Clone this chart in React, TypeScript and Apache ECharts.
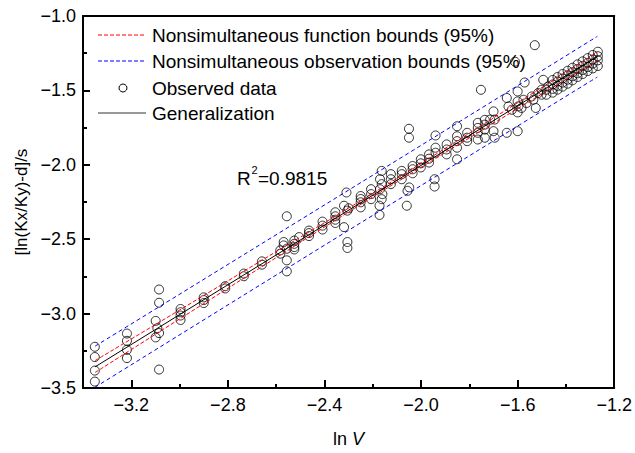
import React, { useEffect, useRef } from 'react';
import * as echarts from 'echarts';

const xMajorTicks = [-3.2, -2.8, -2.4, -2.0, -1.6, -1.2];
const xMinorTicks = [-3.0, -2.6, -2.2, -1.8, -1.4];

const obsX = [
  -3.351, -3.351, -3.351, -3.351, -3.218, -3.218, -3.218, -3.218,
  -3.085, -3.085, -3.099, -3.092, -3.085, -3.099, -3.085,
  -2.996, -2.996, -2.996, -2.996, -2.9, -2.9, -2.9, -2.811, -2.811,
  -2.734, -2.734, -2.659, -2.659,
  -2.583, -2.583, -2.569, -2.569, -2.556, -2.556, -2.556, -2.556,
  -2.525, -2.525, -2.525, -2.525, -2.505, -2.464, -2.464, -2.464,
  -2.408, -2.408, -2.408, -2.355, -2.355, -2.355, -2.355,
  -2.309, -2.319, -2.305, -2.3, -2.319, -2.305, -2.305,
  -2.25, -2.25, -2.25, -2.25, -2.207, -2.207, -2.207,
  -2.163, -2.17, -2.163, -2.17, -2.16, -2.163, -2.172, -2.172,
  -2.125, -2.125, -2.125, -2.08, -2.08, -2.08, -2.049, -2.056, -2.059,
  -2.05, -2.05, -2.035, -2.035, -2.035, -2.001, -2.001, -2.001,
  -1.967, -1.967, -1.967, -1.94, -1.94, -1.94, -1.944, -1.944,
  -1.894, -1.894, -1.894, -1.851, -1.851, -1.851, -1.851, -1.851,
  -1.809, -1.809, -1.809, -1.765, -1.765, -1.765, -1.765,
  -1.736, -1.736, -1.736, -1.736, -1.752, -1.714,
  -1.7, -1.695, -1.7, -1.695, -1.645, -1.638, -1.645, -1.624,
  -1.6, -1.6, -1.597, -1.6, -1.6, -1.576, -1.563, -1.584, -1.571,
  -1.542, -1.535, -1.525, -1.515, -1.501, -1.501, -1.494,
  -1.481, -1.474, -1.481, -1.529, -1.611,
  -1.455, -1.455, -1.455, -1.455, -1.435, -1.435, -1.435, -1.435,
  -1.414, -1.414, -1.414, -1.414, -1.393, -1.393, -1.393, -1.393,
  -1.373, -1.373, -1.373, -1.373, -1.352, -1.352, -1.352, -1.352,
  -1.331, -1.331, -1.331, -1.331, -1.31, -1.31, -1.31, -1.31,
  -1.289, -1.289, -1.289, -1.289, -1.268, -1.268, -1.268, -1.268,
];
const obsY = [
  -3.223, -3.292, -3.383, -3.457, -3.134, -3.183, -3.243, -3.299,
  -2.838, -2.927, -3.049, -3.098, -3.131, -3.16, -3.376,
  -2.969, -2.991, -3.013, -3.043, -2.891, -2.909, -2.929, -2.816, -2.831,
  -2.731, -2.749, -2.649, -2.671,
  -2.575, -2.597, -2.519, -2.542, -2.564, -2.642, -2.716, -2.346,
  -2.509, -2.531, -2.553, -2.569, -2.486, -2.442, -2.459, -2.479,
  -2.382, -2.409, -2.435, -2.319, -2.346, -2.369, -2.391,
  -2.186, -2.275, -2.308, -2.292, -2.419, -2.519, -2.559,
  -2.21, -2.23, -2.252, -2.286, -2.164, -2.197, -2.231,
  -2.041, -2.097, -2.13, -2.164, -2.197, -2.231, -2.275, -2.337,
  -2.063, -2.097, -2.13, -2.041, -2.063, -2.097, -2.152, -2.175, -2.275,
  -1.758, -1.818, -2.008, -2.03, -2.057, -1.963, -1.99, -2.018,
  -1.93, -1.959, -1.985, -1.803, -1.885, -1.919, -2.097, -2.146,
  -1.863, -1.897, -1.93, -1.741, -1.808, -1.841, -1.885, -1.963,
  -1.785, -1.818, -1.841, -1.718, -1.752, -1.785, -1.83,
  -1.698, -1.73, -1.763, -1.818, -1.496, -1.696,
  -1.641, -1.696, -1.774, -1.818, -1.551, -1.608, -1.785, -1.63,
  -1.507, -1.574, -1.607, -1.648, -1.774, -1.563, -1.585, -1.618, -1.447,
  -1.541, -1.563, -1.618, -1.518, -1.496, -1.529, -1.429,
  -1.496, -1.474, -1.529, -1.196, -1.307,
  -1.43, -1.46, -1.49, -1.515, -1.41, -1.44, -1.47, -1.495,
  -1.39, -1.42, -1.448, -1.475, -1.368, -1.398, -1.428, -1.455,
  -1.348, -1.378, -1.405, -1.432, -1.325, -1.356, -1.385, -1.41,
  -1.305, -1.335, -1.363, -1.39, -1.283, -1.315, -1.343, -1.37,
  -1.262, -1.292, -1.32, -1.352, -1.24, -1.27, -1.298, -1.336,
];

const genX = [-3.35, -1.27];
const genY = [-3.358, -1.272];

const funcX = [-3.35, -3.0, -2.6, -2.3, -2.0, -1.7, -1.27];
const funcUpper = [-3.316, -2.976, -2.584, -2.291, -1.991, -1.685, -1.245];
const funcLower = [-3.396, -3.036, -2.624, -2.317, -2.017, -1.721, -1.299];

const obsBoundX = [-3.35, -2.3, -1.27];
const obsUpper = [-3.219, -2.17, -1.137];
const obsLower = [-3.495, -2.44, -1.41];

const legendLabels = [
  'Nonsimultaneous function bounds (95%)',
  'Nonsimultaneous observation bounds (95%)',
  'Observed data',
  'Generalization',
];

const FONT = '"Liberation Sans", Arial, Helvetica, sans-serif';

const zip = (xs: number[], ys: number[]) => xs.map((x, i) => [x, ys[i]]);
const fmt = (v: number) => (v < 0 ? '\u2212' : '') + Math.abs(v).toFixed(1);

export default function App() {
  const ref = useRef<HTMLDivElement>(null);
  useEffect(() => {
    document.body.style.margin = '0';
    const chart = echarts.init(ref.current!, null, { renderer: 'svg' });
    const lineBase = { type: 'line', symbol: 'none', showSymbol: false, silent: true };
    const rowY = [35, 61, 88, 113];
    const txt = (text: string, x: number, y: number, size: number) => ({
      type: 'text', x, y,
      style: { text, fontSize: size, fontFamily: FONT, fill: '#000', verticalAlign: 'middle', align: 'left' },
    });
    const legendGraphics: any[] = [
      { type: 'line', shape: { x1: 98, y1: rowY[0], x2: 146, y2: rowY[0] }, style: { stroke: '#ff0000', lineWidth: 1, lineDash: [4, 2] } },
      { type: 'line', shape: { x1: 98, y1: rowY[1], x2: 146, y2: rowY[1] }, style: { stroke: '#0000ff', lineWidth: 1, lineDash: [4, 2] } },
      { type: 'circle', shape: { cx: 123, cy: rowY[2], r: 4 }, style: { fill: 'none', stroke: '#000', lineWidth: 1 } },
      { type: 'line', shape: { x1: 98, y1: rowY[3], x2: 146, y2: rowY[3] }, style: { stroke: '#333', lineWidth: 1 } },
      ...legendLabels.map((t, i) => txt(t, 152, rowY[i], 19)),
      txt('R', 237, 178, 19),
      txt('2', 251.5, 170, 11),
      txt('=0.9815', 258, 178, 19),
    ];
    const option: any = {
      animation: false,
      textStyle: { fontFamily: FONT, color: '#000' },
      grid: { left: 83, right: 16, top: 16, bottom: 63, containLabel: false },
      xAxis: [
        {
          type: 'value', position: 'bottom', min: -3.4, max: -1.2,
          axisLine: { show: true, onZero: false, lineStyle: { color: '#000', width: 2 } },
          axisTick: { show: true, inside: true, length: 8, customValues: xMajorTicks, lineStyle: { color: '#000', width: 2 } },
          axisLabel: { customValues: xMajorTicks, formatter: fmt, fontSize: 18, color: '#000', margin: 8, fontFamily: FONT },
          splitLine: { show: false },
          name: '{a|ln }{b|V}', nameLocation: 'middle', nameGap: 42,
          nameTextStyle: {
            fontSize: 18, fontFamily: FONT, color: '#000',
            rich: { a: { fontSize: 18, fontFamily: FONT, color: '#000' }, b: { fontSize: 18, fontFamily: FONT, color: '#000', fontStyle: 'italic' } },
          },
        },
        {
          type: 'value', position: 'bottom', min: -3.4, max: -1.2,
          axisLine: { show: false, onZero: false },
          axisTick: { show: true, inside: true, length: 4, customValues: xMinorTicks, lineStyle: { color: '#000', width: 2 } },
          axisLabel: { show: false },
          splitLine: { show: false },
        },
        {
          type: 'value', position: 'top', min: -3.4, max: -1.2,
          axisLine: { show: true, onZero: false, lineStyle: { color: '#000', width: 2 } },
          axisTick: { show: false }, axisLabel: { show: false }, splitLine: { show: false },
        },
      ],
      yAxis: [
        {
          type: 'value', position: 'left', min: -3.5, max: -1.0, interval: 0.5,
          axisLine: { show: true, onZero: false, lineStyle: { color: '#000', width: 2 } },
          axisTick: { show: true, inside: true, length: 7, lineStyle: { color: '#000', width: 2 } },
          minorTick: { show: true, splitNumber: 2, length: 4, lineStyle: { color: '#000', width: 2 } },
          axisLabel: { formatter: fmt, fontSize: 18, color: '#000', margin: 7, fontFamily: FONT },
          splitLine: { show: false }, minorSplitLine: { show: false },
          name: '[ln(Kx/Ky)-d]/s', nameLocation: 'middle', nameGap: 52,
          nameTextStyle: { fontSize: 17, fontFamily: FONT, color: '#000' },
        },
        {
          type: 'value', position: 'right', min: -3.5, max: -1.0, interval: 0.5,
          axisLine: { show: true, onZero: false, lineStyle: { color: '#000', width: 2 } },
          axisTick: { show: false }, axisLabel: { show: false }, splitLine: { show: false },
        },
      ],
      series: [
        {
          name: legendLabels[2], type: 'scatter', data: zip(obsX, obsY), symbol: 'circle', symbolSize: 9,
          itemStyle: { color: 'rgba(0,0,0,0)', borderColor: '#000', borderWidth: 1 }, silent: true,
        },
        { ...lineBase, name: legendLabels[1], data: zip(obsBoundX, obsUpper), smooth: true, lineStyle: { color: '#0000ff', width: 1, type: [4, 3] } },
        { ...lineBase, name: legendLabels[1] + ' lower', data: zip(obsBoundX, obsLower), smooth: true, lineStyle: { color: '#0000ff', width: 1, type: [4, 3] } },
        { ...lineBase, name: legendLabels[0], data: zip(funcX, funcUpper), smooth: true, lineStyle: { color: '#ff0000', width: 1, type: [4, 2] } },
        { ...lineBase, name: legendLabels[0] + ' lower', data: zip(funcX, funcLower), smooth: true, lineStyle: { color: '#ff0000', width: 1, type: [4, 2] } },
        { ...lineBase, name: legendLabels[3], data: zip(genX, genY), lineStyle: { color: '#000', width: 1 } },
      ],
      graphic: legendGraphics,
    };
    chart.setOption(option);
    return () => chart.dispose();
  }, []);
  return <div ref={ref} style={{ width: 635, height: 453 }} />;
}
